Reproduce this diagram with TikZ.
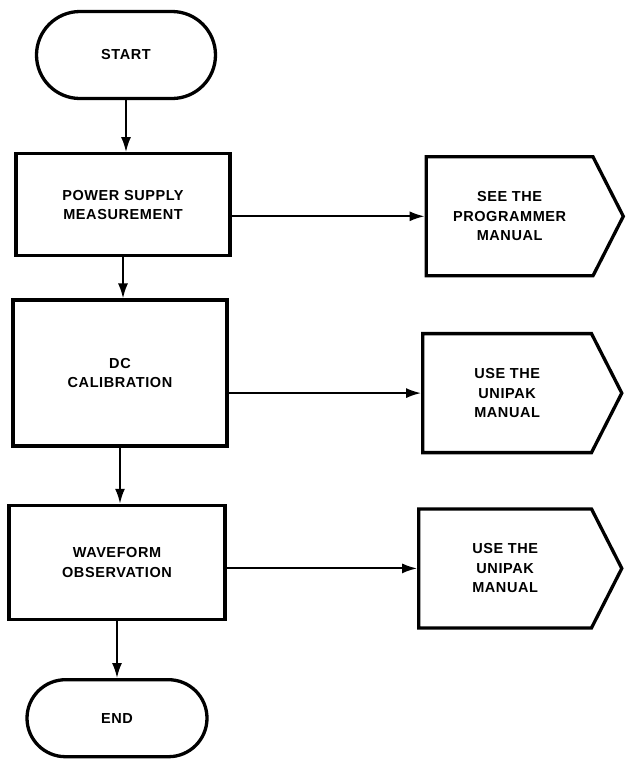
\documentclass[tikz,border=0pt]{standalone}
\usepackage{fontspec}
\setmainfont{Liberation Sans}[LetterSpace=4]
\usetikzlibrary{shapes,shapes.misc,shapes.symbols,arrows.meta,positioning}

\begin{document}
\begin{tikzpicture}
    \tikzset{
        terminal/.style = {rounded rectangle, draw, line width=3.3pt, minimum width=179pt, inner sep=0pt,
            font=\fontsize{14.5}{19.5}\selectfont\bfseries, align=center},
        block/.style = {rectangle, draw, line width=3.3pt, minimum width=214pt, inner sep=0pt,
            font=\fontsize{14.5}{19.5}\selectfont\bfseries, align=center},
        offpage/.style = {signal, signal to=east, signal pointer angle=126, draw, line width=3.3pt,
            minimum height=119pt, inner sep=0pt, font=\fontsize{14.5}{19.5}\selectfont\bfseries, align=center},
        line/.style = {draw, line width=2pt, -{Latex[length=15pt,width=10pt]}},
    }
    \useasboundingbox (0,0) rectangle (626pt,-764pt);

    \node[terminal, minimum height=87pt](start) at (126pt,-55pt){START};

    \node[block, minimum height=102pt](power)[below = 52pt of start, xshift=-3pt]{POWER SUPPLY\\MEASUREMENT};
    \node[block, minimum height=146pt](dc)[below = 41pt of power, xshift=-3pt]{DC\\CALIBRATION};
    \node[block, minimum height=114pt, minimum width=216pt](wave)[below = 56pt of dc, xshift=-3pt]{WAVEFORM\\OBSERVATION};

    \node[terminal, minimum height=77pt, minimum width=180pt](end)[below = 57pt of wave]{END};

    \node[offpage, minimum width=197pt](prog)[right = 193pt of power, yshift=-11.5pt]{SEE THE\\PROGRAMMER\\MANUAL};
    \node[offpage, minimum width=199pt](unipak1)[right = 192.5pt of dc, yshift=-20pt]{USE THE\\UNIPAK\\MANUAL};
    \node[offpage, minimum width=203pt](unipak2)[right = 190.5pt of wave, yshift=-6pt]{USE THE\\UNIPAK\\MANUAL};

    \path [line] (start.south) -- (start.south |- power.north);
    \path [line] (power.south) -- (power.south |- dc.north);
    \path [line] (dc.south) -- (dc.south |- wave.north);
    \path [line] (wave.south) -- (wave.south |- end.north);

    \path [line] (prog.west -| power.east) -- (prog.west);
    \path [line] (unipak1.west -| dc.east) -- (unipak1.west);
    \path [line] (unipak2.west -| wave.east) -- (unipak2.west);

\end{tikzpicture}
\end{document}
